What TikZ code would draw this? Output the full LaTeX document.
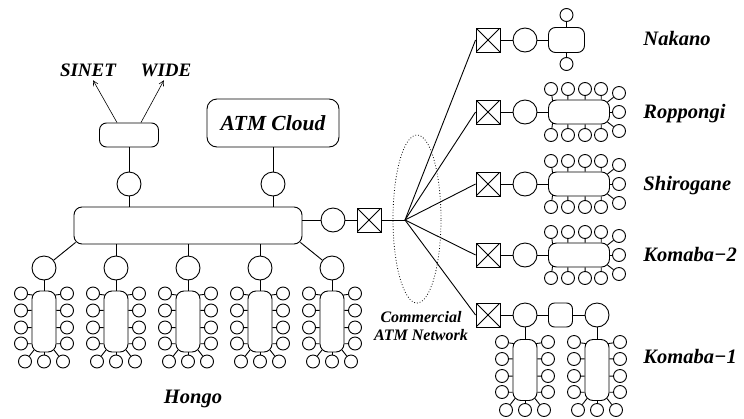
\documentclass[tikz,border=0pt]{standalone}
\usepackage{fontspec}
\setmainfont{Liberation Serif}
\usetikzlibrary{calc,arrows.meta,shapes.geometric}

\begin{document}
\begin{tikzpicture}[
  x=1pt, y=-1pt, line width=0.9pt,
  lbl/.style={font=\fontsize{20.5}{22}\selectfont\bfseries\itshape},
  smlbl/.style={font=\fontsize{16}{18}\selectfont\bfseries\itshape, align=center},
  pc/.style={draw, circle, minimum size=13pt, inner sep=0pt},
  rtr/.style={draw, circle, minimum size=24pt, inner sep=0pt},
  sw/.style={draw, minimum size=24pt, inner sep=0pt,
    path picture={\draw (path picture bounding box.south west) -- (path picture bounding box.north east)
      (path picture bounding box.north west) -- (path picture bounding box.south east);}},
  lanbox/.style={draw, rounded corners=8pt, minimum width=24pt, minimum height=61pt, inner sep=0pt},
  arr/.style={-{Straight Barb[length=5pt,width=5pt]}, line width=0.6pt},
  lan/.pic={
    \node[lanbox] (-box) at (0,0) {};
    \foreach \i/\dy in {1/-28,2/-11,3/6,4/22} {
      \node[pc] (-l\i) at (-23,\dy) {};
      \node[pc] (-r\i) at (23,\dy) {};
    }
    \foreach \i/\dx in {1/-19,2/0,3/19}
      \node[pc] (-b\i) at (\dx,40) {};
    \draw (-l1) -- ($(-box.north west)+(1.2,4.5)$);
    \draw (-r1) -- ($(-box.north east)+(-1.2,4.5)$);
    \foreach \i/\f in {2/0.32,3/0.6,4/0.86} {
      \draw (-l\i) -- ($(-box.north west)!\f!(-box.south west)$);
      \draw (-r\i) -- ($(-box.north east)!\f!(-box.south east)$);
    }
    \draw (-b1) -- ($(-box.south west)+(2.4,-2.4)$);
    \draw (-b2) -- (-box);
    \draw (-b3) -- ($(-box.south east)+(-2.4,-2.4)$);
  }
]
  \useasboundingbox (0,0) rectangle (744,418);

  % Hongo backbone
  \node[draw, rounded corners=8pt, minimum width=228pt, minimum height=37pt] (bar) at (188,225.5) {};
  \node[rtr] (ht1) at (129,184) {};
  \node[rtr] (ht2) at (273,184) {};
  \node[draw, rounded corners=7pt, minimum width=59pt, minimum height=24pt] (gw) at (129,135) {};
  \node[draw, rounded corners=10pt, minimum width=132pt, minimum height=48pt, lbl, font=\fontsize{21.5}{23}\selectfont\bfseries\itshape] (cloud) at (273,123) {ATM Cloud};
  \node[lbl, font=\fontsize{19}{21}\selectfont\bfseries\itshape] (sinet) at (88,70) {SINET};
  \node[lbl, font=\fontsize{19}{21}\selectfont\bfseries\itshape] (wide) at (166,70) {WIDE};
  \draw[arr] ([xshift=-12pt]gw.north) -- ([xshift=5pt]sinet.south);
  \draw[arr] ([xshift=12pt]gw.north) -- ([xshift=-2pt]wide.south);
  \draw (ht1) -- (gw); \draw (ht1) -- (ht1 |- bar.north);
  \draw (ht2) -- (cloud); \draw (ht2) -- (ht2 |- bar.north);

  % Hongo LANs
  \foreach \i in {1,...,5} {
    \node[rtr] (hb\i) at ({44+72*(\i-1)},268) {};
    \pic (h\i) at ({44+72*(\i-1)},321.5) {lan};
    \draw (hb\i) -- (h\i-box);
  }
  \draw (hb1) -- ($(bar.south west)+(2,-2)$);
  \draw (hb5) -- ($(bar.south east)+(-2,-2)$);
  \foreach \i in {2,3,4}
    \draw (hb\i) -- (hb\i |- bar.south);
  \node[lbl] (hongo) at (193,399) {Hongo};

  % Commercial ATM network
  \node[rtr] (hc) at (333,220) {};
  \node[sw] (hsw) at (369,220) {};
  \coordinate (hub) at (405,220);
  \draw (hc) -- (hc -| bar.east);
  \draw (hc) -- (hsw) -- (hub);
  \node[draw, ellipse, dotted, line width=0.8pt, minimum width=48pt, minimum height=168pt] (cmn) at (417,219) {};
  \node[smlbl] (cmnl) at (421,326) {Commercial\\ATM Network};

  % Remote sites
  \foreach \n/\y in {nk/40,rp/112,sg/184,k2/255,k1/315} {
    \node[sw] (sw\n) at (488,\y) {};
    \node[rtr] (c\n) at (525,\y) {};
    \draw (hub) -- (sw\n.west);
    \draw (sw\n) -- (c\n);
  }
  \node[draw, rounded corners=7pt, minimum width=36pt, minimum height=25pt] (nkbox) at (566.5,40) {};
  \node[pc] (nkt) at (566.5,15) {};
  \node[pc] (nkb) at (566.5,64) {};
  \draw (cnk) -- (nkbox);
  \draw (nkt) -- (nkbox) -- (nkb);
  \foreach \n/\y in {rp/112,sg/184,k2/255} {
    \pic[rotate=90, transform shape] (\n) at (579,\y) {lan};
    \draw (c\n) -- (\n-box);
  }
  \node[draw, rounded corners=6pt, minimum size=24pt] (k1box) at (560.5,315) {};
  \node[rtr] (k1c) at (597,315) {};
  \draw (ck1) -- (k1box) -- (k1c);
  \pic (ka) at (525,370) {lan};
  \pic (kb) at (597,370) {lan};
  \draw (ck1) -- (ka-box);
  \draw (k1c) -- (kb-box);

  \node[lbl, anchor=base west, inner sep=0pt] (nkl) at (643,45) {Nakano};
  \node[lbl, anchor=base west, inner sep=0pt] (rpl) at (643,118) {Roppongi};
  \node[lbl, anchor=base west, inner sep=0pt] (sgl) at (643,190) {Shirogane};
  \node[lbl, anchor=base west, inner sep=0pt] (k2l) at (643,261) {Komaba−2};
  \node[lbl, anchor=base west, inner sep=0pt] (k1l) at (643,363) {Komaba−1};
\end{tikzpicture}
\end{document}
